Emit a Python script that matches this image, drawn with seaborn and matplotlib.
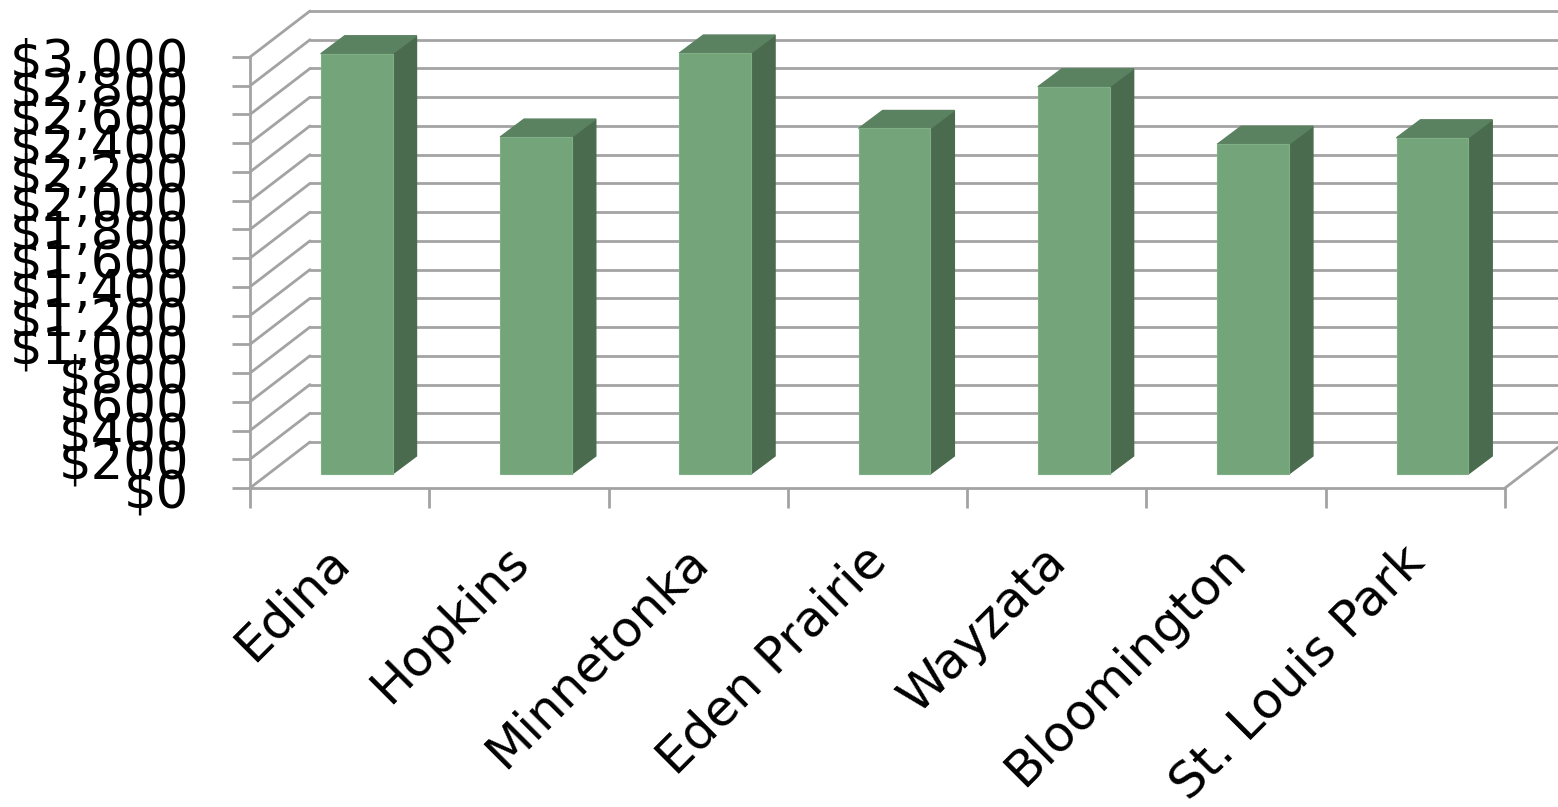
import matplotlib
matplotlib.use("Agg")
import matplotlib.pyplot as plt
import matplotlib.transforms as mtrans
import pandas as pd
import seaborn as sns
from matplotlib.patches import Polygon

# values
cities = ["Edina", "Hopkins", "Minnetonka", "Eden Prairie", "Wayzata", "Bloomington", "St. Louis Park"]
values = [2925, 2345, 2930, 2405, 2695, 2295, 2340]
y_ticks = [0, 200, 400, 600, 800, 1000, 1200, 1400, 1600, 1800, 2000, 2200, 2400, 2600, 2800, 3000]

W, H = 1558, 807
FRONT = "#74a57a"
SIDE = "#4a6b4e"
TOP = "#5a8160"
GRID = "#a3a3a3"
LW = 2.0

# depth of the fake 3d box and of the bars, in pixels
BOX_DX, BOX_DY = 60, 46
BAR_X, BAR_Y = 17, 14
BAR_DX, BAR_DY = 24, 18

df = pd.DataFrame({"city": cities, "value": values})

sns.set_theme(style="white")
fig = plt.figure(figsize=(W / 100, H / 100), dpi=100, facecolor="white")
ax = fig.add_axes([250 / W, 1 - 488 / H, 1255 / W, 431 / H])

sns.barplot(data=df, x="city", y="value", color=FRONT, saturation=1, width=0.4, ax=ax, zorder=3)
ax.set_xlim(-0.5, 6.5)
ax.set_ylim(0, 3000)
ax.set_xlabel("")
ax.set_ylabel("")
ax.patch.set_visible(False)
for s in ["top", "right"]:
    ax.spines[s].set_visible(False)
for s in ["left", "bottom"]:
    ax.spines[s].set_color(GRID)
    ax.spines[s].set_linewidth(LW)


def px(dx, dy):
    return mtrans.ScaledTranslation(dx / 100, dy / 100, fig.dpi_scale_trans)


# back wall and floor
back = ax.transData + px(BOX_DX, BOX_DY)
for t in y_ticks:
    ax.plot([-0.5, 6.5], [t, t], color=GRID, lw=LW, transform=back, clip_on=False, zorder=1)
    a = ax.transData.transform((-0.5, t))
    b = back.transform((-0.5, t))
    ax.add_line(plt.Line2D([a[0], b[0]], [a[1], b[1]], color=GRID, lw=LW, transform=None, clip_on=False, zorder=1))
a = ax.transData.transform((6.5, 0))
b = back.transform((6.5, 0))
ax.add_line(plt.Line2D([a[0], b[0]], [a[1], b[1]], color=GRID, lw=LW, transform=None, clip_on=False, zorder=1))

# move the bars inside the box and give them a side and a top
move = ax.transData + px(BAR_X, BAR_Y)
for bar in ax.patches:
    bar.set_transform(move)
    bar.set_clip_on(False)
    bar.set_edgecolor("#80ae86")
    bar.set_linewidth(0.8)
    x0, x1 = bar.get_x(), bar.get_x() + bar.get_width()
    h = bar.get_height()
    (l, b0), (r, t0) = move.transform([(x0, 0), (x1, h)])
    side = [(r, b0), (r + BAR_DX, b0 + BAR_DY), (r + BAR_DX, t0 + BAR_DY), (r, t0)]
    top = [(l, t0), (r, t0), (r + BAR_DX, t0 + BAR_DY), (l + BAR_DX, t0 + BAR_DY)]
    ax.add_patch(Polygon(side, closed=True, color=SIDE, transform=None, clip_on=False, zorder=2.5))
    ax.add_patch(Polygon(top, closed=True, color=TOP, transform=None, clip_on=False, zorder=2.5))

ax.set_yticks(y_ticks)
ax.set_yticklabels([f"${t:,}" for t in y_ticks], fontsize=37, color="black")
ax.tick_params(axis="y", left=True, length=13, width=LW, color=GRID, pad=31)

# ticks sit between the categories
ax.set_xticks([i - 0.5 for i in range(8)])
ax.set_xticklabels([])
ax.tick_params(axis="x", length=14.5, width=LW, color=GRID, bottom=True)
for i, name in enumerate(cities):
    ax.annotate(name, xy=(i, 0), xycoords=("data", "axes fraction"), xytext=(-11, -35),
                textcoords="offset points", rotation=45, ha="right", va="top",
                rotation_mode="anchor", fontsize=36, color="black", annotation_clip=False)

fig.savefig("out.png", dpi=100)
